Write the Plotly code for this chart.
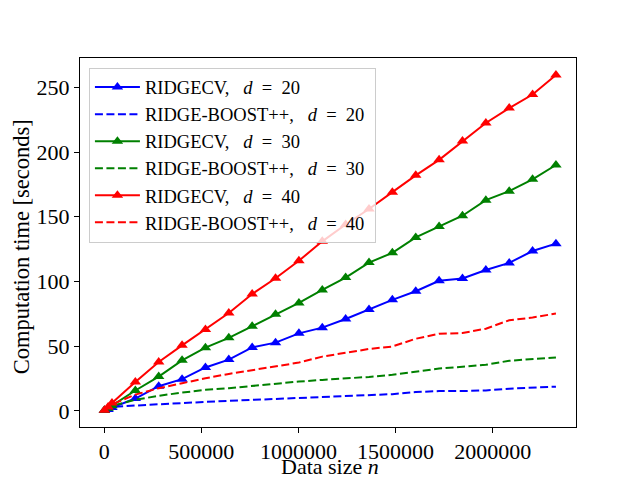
import plotly.graph_objects as go

# data size n (x positions of the measurements)
data_size = [1000, 20000, 40000, 160300, 280600, 400900, 521200, 641500, 761800,
             882100, 1002400, 1122700, 1243000, 1363300, 1483600, 1603900,
             1724200, 1844500, 1964800, 2085100, 2205400, 2325700]

# computation times in seconds
ridgecv_d20 = [0.3, 1.0, 2.5, 9.5, 19.0, 24.5, 33.5, 39.6, 49.0, 52.7, 59.9, 64.3,
               71.0, 78.4, 85.8, 92.4, 100.5, 102.3, 108.8, 114.3, 123.5, 129.2]
boost_d20 = [0.2, 1.5, 2.9, 4.1, 5.2, 5.9, 6.9, 7.7, 8.5, 9.3, 10.0, 10.8,
             11.3, 12.1, 12.9, 14.5, 15.3, 15.3, 15.8, 17.1, 17.9, 18.7]
ridgecv_d30 = [0.5, 2.0, 4.0, 15.7, 26.5, 39.0, 48.8, 56.4, 65.3, 74.6, 83.4, 93.4,
               103.0, 114.6, 122.1, 134.0, 142.5, 150.8, 162.8, 169.8, 178.9, 190.0]
boost_d30 = [0.3, 2.0, 3.9, 8.5, 11.6, 14.1, 16.2, 17.5, 19.3, 21.3, 22.6, 23.9,
             24.8, 26.2, 27.8, 30.4, 32.7, 34.0, 35.6, 38.7, 40.0, 41.3]
ridgecv_d40 = [0.5, 3.0, 6.0, 22.2, 37.8, 50.6, 62.8, 75.6, 90.3, 102.5, 116.0, 131.0,
               144.0, 156.0, 169.0, 182.0, 194.0, 208.5, 222.5, 234.0, 244.5, 259.6]
boost_d40 = [0.3, 2.5, 5.0, 12.5, 17.5, 21.3, 25.2, 28.5, 31.6, 34.2, 37.3, 41.9,
             45.0, 47.8, 49.7, 55.7, 59.6, 60.1, 63.5, 70.0, 72.1, 75.2]

sp = "\u00a0"
eq = f"{sp}{sp}={sp}{sp}"
series = [
    (f"RIDGECV,{sp}{sp}{sp}<i>d</i>{eq}20", ridgecv_d20, "#0000ff", True),
    (f"RIDGE-BOOST++,{sp}{sp}{sp}<i>d</i>{eq}20{sp}", boost_d20, "#0000ff", False),
    (f"RIDGECV,{sp}{sp}{sp}<i>d</i>{eq}30", ridgecv_d30, "#008000", True),
    (f"RIDGE-BOOST++,{sp}{sp}{sp}<i>d</i>{eq}30{sp}", boost_d30, "#008000", False),
    (f"RIDGECV,{sp}{sp}{sp}<i>d</i>{eq}40", ridgecv_d40, "#ff0000", True),
    (f"RIDGE-BOOST++,{sp}{sp}{sp}<i>d</i>{eq}40{sp}", boost_d40, "#ff0000", False),
]

fig = go.Figure()
for i, (name, vals, color, solid) in enumerate(series):
    if solid:
        fig.add_trace(go.Scatter(
            x=data_size, y=vals, name=name, mode="lines+markers",
            line=dict(color=color, width=2),
            marker=dict(symbol="triangle-up", size=10, color=color),
            legendgroup=str(i),
        ))
    else:
        fig.add_trace(go.Scatter(
            x=data_size, y=vals, name=name, mode="lines",
            line=dict(color=color, width=2, dash="8px,3.5px"),
            legendgroup=str(i),
        ))

font = "Liberation Serif"
# page has an 8px body margin, so the figure is a bit smaller than the window
fig.update_layout(
    width=632, height=472,
    margin=dict(l=72, r=64, t=50, b=53),
    plot_bgcolor="white", paper_bgcolor="white",
    font=dict(family=font, size=22, color="black"),
    showlegend=True,
    legend=dict(
        x=0.018, y=0.974, xanchor="left", yanchor="top",
        bgcolor="rgba(255,255,255,0.8)", bordercolor="#cccccc", borderwidth=1,
        font=dict(family=font, size=18.5),
        tracegroupgap=0, traceorder="grouped", itemwidth=45,
    ),
    annotations=[
        dict(text="Data size <i>n</i>", x=0.504, y=-0.1425, xref="paper", yref="paper",
             showarrow=False, xanchor="center", yanchor="bottom", borderpad=0,
             font=dict(size=22)),
        dict(text="Computation time [seconds]", x=-0.119, y=0.49, xref="paper",
             yref="paper", showarrow=False, textangle=-90, xanchor="center",
             yanchor="middle", font=dict(size=22.5)),
    ],
)
fig.update_xaxes(
    range=[-124600, 2429000], tickvals=[0, 500000, 1000000, 1500000, 2000000],
    tickformat="d", showgrid=False, zeroline=False, automargin=False,
    showline=True, linecolor="black", linewidth=1, mirror=True,
    ticks="outside", ticklen=5, tickcolor="black",
)
fig.update_yaxes(
    range=[-12.5, 272.7], dtick=50, showgrid=False, zeroline=False, automargin=False,
    showline=True, linecolor="black", linewidth=1, mirror=True,
    ticks="outside", ticklen=5, tickcolor="black",
)

fig.write_html("out.html")
